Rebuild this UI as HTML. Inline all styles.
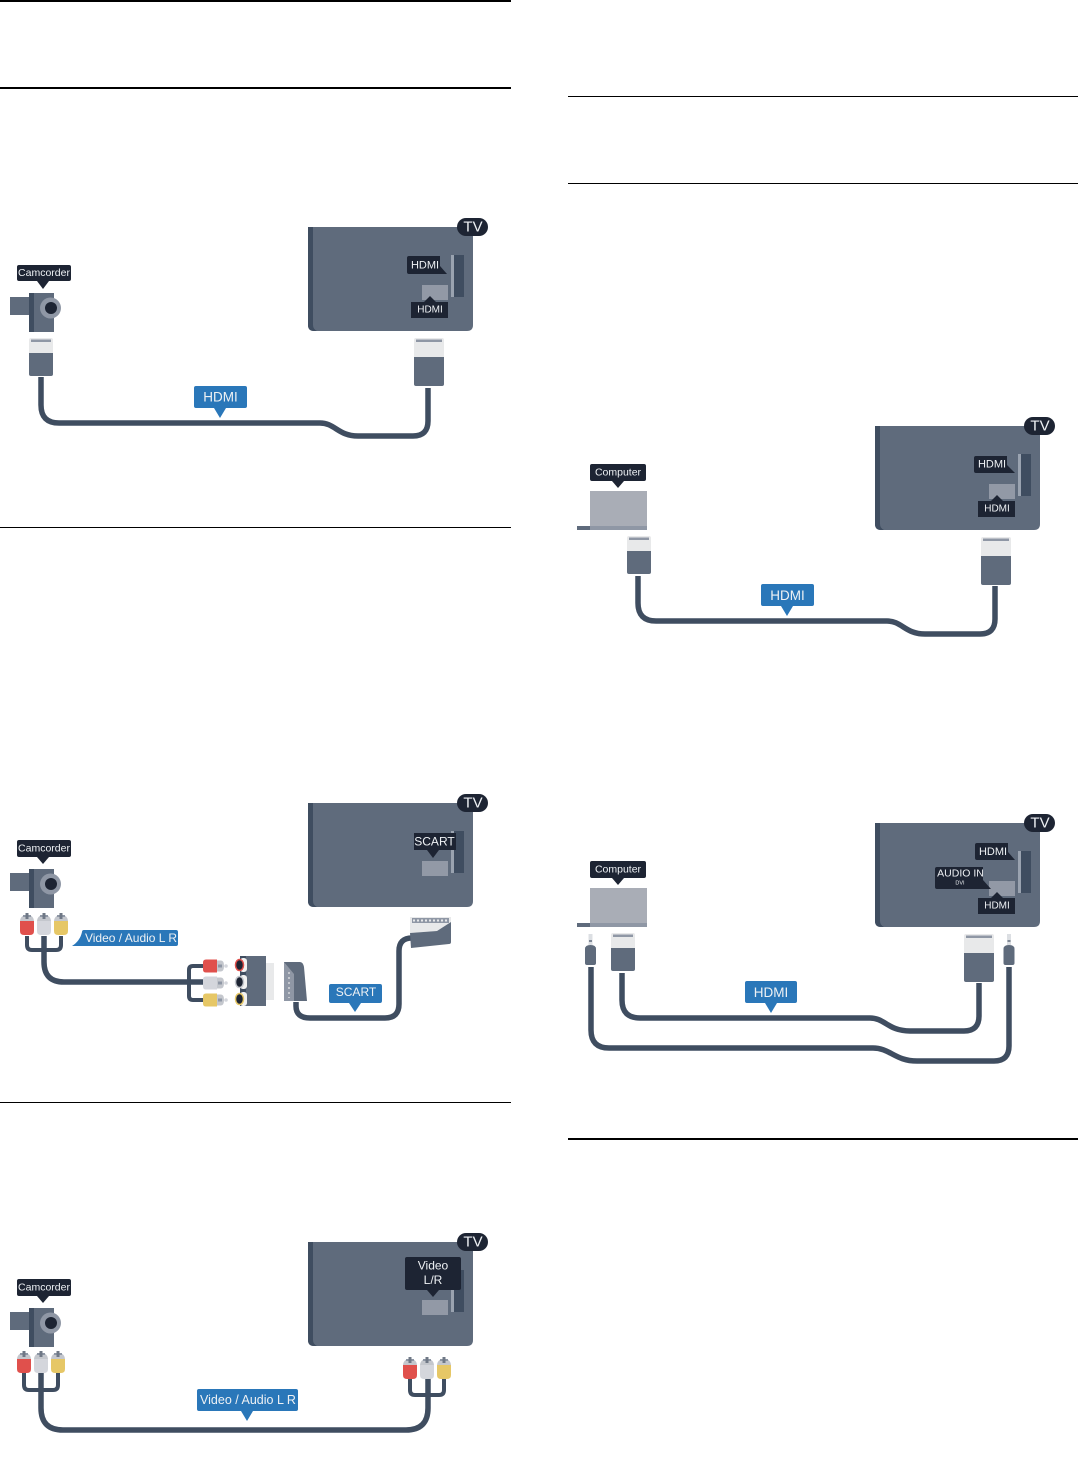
<!DOCTYPE html>
<html><head><meta charset="utf-8"><style>
html,body{margin:0;padding:0;background:#fff}
svg{display:block}
text{font-family:"Liberation Sans",sans-serif;fill:#eef1f4;text-anchor:middle;dominant-baseline:central}
.c{fill:none;stroke:#3f4d60;stroke-width:5.500}
.f{fill:none;stroke:#3f4d60;stroke-width:4}
.d{fill:#1d2433}.b{fill:#2a77b9}
</style></head><body>
<svg width="1078" height="1474" viewBox="0 0 1078 1474" xmlns="http://www.w3.org/2000/svg">
<defs>
<g id="tv">
<path d="M308 227H473V325Q473 331 467 331H314Q308 331 308 325Z" fill="#5f6b7c"/>
<path d="M308 227H313V325Q313 329 317 331H314Q308 331 308 325Z" fill="#3f4d60"/>
<rect x="451" y="255" width="3" height="42" fill="#9aa3b0"/>
<rect x="454" y="255" width="10" height="42" fill="#3f4d60"/>
<rect x="422" y="285" width="26" height="15" fill="#9299a6"/>
<rect x="457" y="218" width="31" height="18" rx="9" fill="#1d2433"/>
</g>
<g id="cam">
<rect x="10" y="297" width="20" height="18" fill="#5f6b7c"/>
<rect x="29" y="293" width="25" height="39" fill="#5f6b7c"/>
<rect x="29" y="293" width="5" height="39" fill="#3f4d60"/>
<circle cx="50.500" cy="308" r="10.500" fill="#8f97a5"/>
<circle cx="51" cy="308" r="6" fill="#1d2433"/>
</g>
<g id="lap">
<rect x="590" y="491" width="57" height="39" fill="#a9adb6"/>
<rect x="590" y="526" width="57" height="4" fill="#8f97a5"/>
<rect x="577" y="526" width="13" height="4" fill="#5f6b7c"/>
</g>
<g id="pl">
<path d="M0 14H24V36Q24 38 22 38H2Q0 38 0 36Z" fill="#5f6b7c"/>
<path d="M0 15V2Q0 0 2 0H22Q24 0 24 2V15Z" fill="#e8e9ea"/>
<rect x="2" y="1.500" width="20" height="2.500" fill="#8f97a5"/>
</g>
<g id="pr">
<path d="M0 18H30V46Q30 48 28 48H2Q0 48 0 46Z" fill="#5f6b7c"/>
<path d="M0 19V2Q0 0 2 0H28Q30 0 30 2V19Z" fill="#e8e9ea"/>
<rect x="2" y="1.500" width="26" height="2.500" fill="#8f97a5"/>
</g>
<g id="jack">
<rect x="-2" y="0" width="4" height="11" fill="#dcdfe3"/>
<rect x="-1.500" y="6" width="3" height="2" fill="#7f8896"/>
<path d="M-5.500 15Q-5.500 11 0 11Q5.500 11 5.500 15V29Q5.500 31 3.500 31H-3.500Q-5.500 31 -5.500 29Z" fill="#5f6b7c"/>
</g>
<g id="caps">
<path d="M-7 9Q-7 2 0 2Q7 2 7 9Z" fill="#c4c7cd"/>
<rect x="-4" y="2" width="8" height="2" fill="#8f97a5"/>
<rect x="-1.500" y="0" width="3" height="6" fill="#6f7886"/>
</g>
<g id="rca">
<use href="#caps" x="0"/>
<path d="M-7 8H7V18Q7 22 3 22H-3Q-7 22 -7 18Z" fill="#e0504c"/>
<use href="#caps" x="17"/>
<path d="M10 8H24V18Q24 22 20 22H14Q10 22 10 18Z" fill="#d4d6dc"/>
<use href="#caps" x="34"/>
<path d="M27 8H41V18Q41 22 37 22H31Q27 22 27 18Z" fill="#e6c766"/>
</g>
<g id="hr">
<path d="M14 0H3Q0 0 0 3V10Q0 13 3 13H14Z"/>
<path d="M14 1H18Q21 1 21 6.500Q21 12 18 12H14Z" fill="#c4c7cd"/>
<rect x="15" y="5" width="4" height="3" fill="#8f97a5"/>
<circle cx="23" cy="6.500" r="1.800" fill="#d4d6dc"/>
</g>
</defs>

<g fill="#000">
<rect x="0" y="0" width="511" height="2"/><rect x="0" y="87" width="511" height="2"/>
<rect x="0" y="527" width="511" height="1"/><rect x="0" y="1102" width="511" height="1"/>
<rect x="568" y="96" width="510" height="1"/><rect x="568" y="183" width="510" height="1"/>
<rect x="568" y="1138" width="510" height="2"/>
</g>

<!-- Diagram 1 -->
<use href="#tv"/>
<text x="473" y="227" font-size="15">TV</text>
<path class="d" d="M409 256H440V274H447L440 266V274H409Q407 274 407 272V258Q407 256 409 256Z"/>
<text x="425" y="265.500" font-size="11">HDMI</text>
<path class="d" d="M411 302H424L430 296L436 302H448V318H411Z"/>
<text x="430" y="310" font-size="10">HDMI</text>
<path class="d" d="M19 265H69Q71 265 71 267V279Q71 281 69 281H49L43 289L37 281H19Q17 281 17 279V267Q17 265 19 265Z"/>
<text x="44" y="273" font-size="10.500">Camcorder</text>
<use href="#cam"/>
<use href="#pl" x="29" y="338"/>
<use href="#pr" x="414" y="338"/>
<path class="c" d="M41 377V405Q41 423 59 423H320C335 423 338 436 358 436H413Q428 436 428 421V388"/>
<path class="b" d="M196 386H245Q247 386 247 388V406Q247 408 245 408H226L220 418L214 408H196Q194 408 194 406V388Q194 386 196 386Z"/>
<text x="220.500" y="397" font-size="13.500">HDMI</text>

<!-- Diagram 2 -->
<use href="#tv" y="576"/>
<text x="473" y="803" font-size="15">TV</text>
<rect x="414" y="833" width="42" height="17" class="d"/>
<path class="d" d="M427 850H439L433 858Z"/>
<text x="434.500" y="841.500" font-size="12">SCART</text>
<path class="d" d="M19 840H69Q71 840 71 842V855Q71 857 69 857H49L43 864L37 857H19Q17 857 17 855V842Q17 840 19 840Z"/>
<text x="44" y="848.500" font-size="10.500">Camcorder</text>
<use href="#cam" y="576"/>
<path class="f" d="M27 936V945Q27 950 32 950H56Q61 950 61 945V936"/>
<path class="c" d="M44 936V962Q44 982 64 982H203"/>
<use href="#rca" x="27" y="913"/>
<path class="b" d="M84 930H176Q178 930 178 932V944Q178 946 176 946H72Q80 941 82 932Q82 930 84 930Z"/>
<text x="131" y="938" font-size="12">Video / Audio L R</text>
<path class="f" d="M203 966H193Q189 966 189 970V996Q189 1000 193 1000H203"/>
<use href="#hr" x="203" y="959.500" fill="#e0504c"/>
<use href="#hr" x="203" y="976.500" fill="#d4d6dc"/>
<use href="#hr" x="203" y="993.500" fill="#e6c766"/>
<rect x="266" y="963" width="8" height="37" fill="#e8e9ea"/>
<rect x="240" y="956" width="26" height="50" fill="#5f6b7c"/>
<rect x="240" y="956" width="6" height="50" fill="#3f4d60"/>
<rect x="240" y="958" width="7" height="14" rx="3" fill="#f2f2f2"/>
<rect x="240" y="975" width="7" height="14" rx="3" fill="#f2f2f2"/>
<rect x="240" y="992" width="7" height="14" rx="3" fill="#f2f2f2"/>
<ellipse cx="239.500" cy="965" rx="4" ry="5.500" fill="#1d2433" stroke="#e0504c" stroke-width="1.500"/>
<ellipse cx="239.500" cy="982" rx="4" ry="5.500" fill="#1d2433" stroke="#c4c7cd" stroke-width="1.500"/>
<ellipse cx="239.500" cy="999" rx="4" ry="5.500" fill="#1d2433" stroke="#e6c766" stroke-width="1.500"/>
<path d="M284 962H300Q303 962 304 967L307 1001H284Z" fill="#5f6b7c"/>
<path d="M284 962L294 974V1001H284Z" fill="#8f97a5"/>
<path d="M289 972V998" stroke="#c4c7cd" stroke-width="2" stroke-dasharray="2 3"/>
<path class="c" d="M296 1002V1006Q296 1018 310 1018H385Q399 1018 399 1004V951Q399 938 412 938"/>
<path d="M410 917H451V922L437 931L410 933Z" fill="#e8e9ea"/>
<rect x="412" y="918" width="37" height="5" fill="#8f97a5"/>
<path d="M413 920.500H448" stroke="#e8e9ea" stroke-width="2" stroke-dasharray="2 2"/>
<path d="M410 933L437 931L451 922V942Q451 944 449 944L411 948Z" fill="#5f6b7c"/>
<path class="b" d="M331 984H380Q382 984 382 986V1001Q382 1003 380 1003H361L355 1012L349 1003H331Q329 1003 329 1001V986Q329 984 331 984Z"/>
<text x="356" y="992" font-size="12">SCART</text>

<!-- Diagram 3 -->
<use href="#tv" y="1015"/>
<text x="473" y="1242" font-size="15">TV</text>
<rect x="405" y="1257" width="56" height="33" rx="2" class="d"/>
<path class="d" d="M427 1290H439L433 1297Z"/>
<text x="433" y="1265.500" font-size="12">Video</text>
<text x="433" y="1280" font-size="12">L/R</text>
<path class="d" d="M19 1279H69Q71 1279 71 1281V1294Q71 1296 69 1296H49L43 1303L37 1296H19Q17 1296 17 1294V1281Q17 1279 19 1279Z"/>
<text x="44" y="1287.500" font-size="10.500">Camcorder</text>
<use href="#cam" y="1015"/>
<path class="f" d="M24 1372V1385Q24 1390 29 1390H53Q58 1390 58 1385V1372"/>
<path class="f" d="M410 1378V1390Q410 1395 415 1395H439Q444 1395 444 1390V1378"/>
<path class="c" d="M41 1372V1408Q41 1430 63 1430H406Q428 1430 428 1408V1378"/>
<use href="#rca" x="24" y="1351"/>
<use href="#rca" x="410" y="1357"/>
<path class="b" d="M199 1389H296Q298 1389 298 1391V1409Q298 1411 296 1411H253L247 1421L241 1411H199Q197 1411 197 1409V1391Q197 1389 199 1389Z"/>
<text x="248" y="1400" font-size="12.500">Video / Audio L R</text>

<!-- Diagram 4 -->
<use href="#tv" x="567" y="199"/>
<text x="1040" y="426" font-size="15">TV</text>
<path class="d" d="M976 456H1007V473H1015L1007 465V473H976Q974 473 974 471V458Q974 456 976 456Z"/>
<text x="992" y="464.500" font-size="11">HDMI</text>
<path class="d" d="M978 501H991L997 495L1003 501H1015V517H978Z"/>
<text x="997" y="509" font-size="10">HDMI</text>
<use href="#lap"/>
<path class="d" d="M592 464H644Q646 464 646 466V479Q646 481 644 481H624L618 488L612 481H592Q590 481 590 479V466Q590 464 592 464Z"/>
<text x="618" y="472.500" font-size="10.500">Computer</text>
<use href="#pl" x="627" y="536"/>
<use href="#pr" x="981" y="537"/>
<path class="c" d="M638 576V603Q638 621 656 621H887C902 621 905 634 925 634H980Q995 634 995 619V586"/>
<path class="b" d="M763 584H812Q814 584 814 586V604Q814 606 812 606H793L787 616L781 606H763Q761 606 761 604V586Q761 584 763 584Z"/>
<text x="787.500" y="595.500" font-size="13.500">HDMI</text>

<!-- Diagram 5 -->
<use href="#tv" x="567" y="596"/>
<text x="1040" y="823" font-size="15">TV</text>
<path class="d" d="M977 843H1008V860H1015L1008 852V860H977Q975 860 975 858V845Q975 843 977 843Z"/>
<text x="993" y="852" font-size="11">HDMI</text>
<path class="d" d="M937 867H983V889H991L983 880V889H937Q935 889 935 887V869Q935 867 937 867Z"/>
<text x="960.500" y="873.500" font-size="10.500">AUDIO IN</text>
<text x="960" y="883.500" font-size="5.500">DVI</text>
<path class="d" d="M978 898H991L997 892L1003 898H1015V914H978Z"/>
<text x="997" y="906" font-size="10">HDMI</text>
<use href="#lap" y="397"/>
<path class="d" d="M592 861H644Q646 861 646 863V876Q646 878 644 878H624L618 885L612 878H592Q590 878 590 876V863Q590 861 592 861Z"/>
<text x="618" y="869.500" font-size="10.500">Computer</text>
<use href="#pl" x="611" y="933"/>
<use href="#pr" x="964" y="934"/>
<use href="#jack" x="590.500" y="934"/>
<use href="#jack" x="1009" y="934"/>
<path class="c" d="M622 973V1000Q622 1018 640 1018H870C885 1018 888 1031 910 1031H964Q979 1031 979 1016V983"/>
<path class="c" d="M591 967V1030Q591 1048 609 1048H873C890 1048 895 1061 917 1061H994Q1009 1061 1009 1046V967"/>
<path class="b" d="M747 981H795Q797 981 797 983V1001Q797 1003 795 1003H777L771 1013L765 1003H747Q745 1003 745 1001V983Q745 981 747 981Z"/>
<text x="771" y="992.500" font-size="13.500">HDMI</text>
</svg>
</body></html>
